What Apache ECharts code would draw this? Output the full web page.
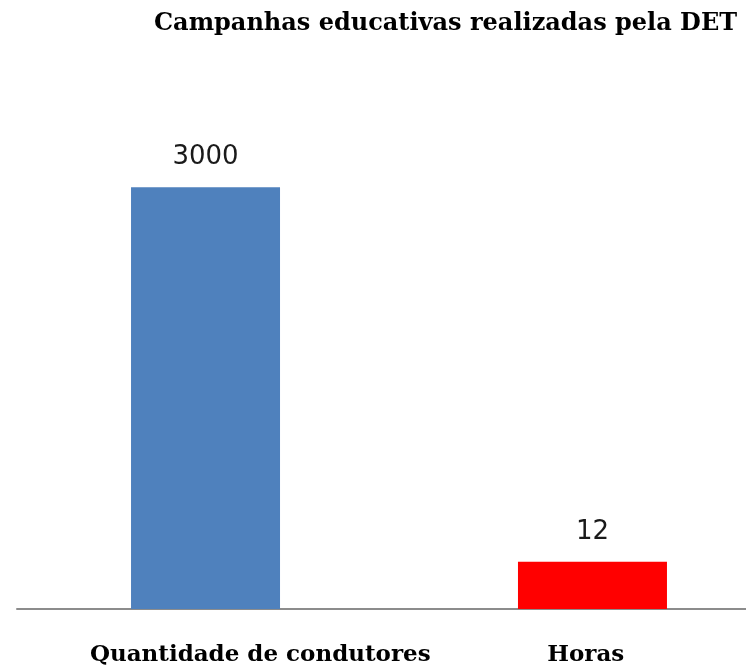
<!DOCTYPE html>
<html>
<head>
<meta charset="utf-8">
<script src="https://cdn.jsdelivr.net/npm/echarts@6/dist/echarts.min.js"></script>
<style>
  html, body { margin: 0; padding: 0; background: #fff; }
  #box { width: 746px; height: 670px; }
</style>
</head>
<body>
<div id="box"></div>
<script>
var categories = ['Quantidade de condutores', 'Horas'];
var condutores = [3000];
var horas = [12];

var myChart = echarts.init(document.getElementById('box'));

var serif = '"DejaVu Serif", "Liberation Serif", serif';
var labelStyle = {
    show: true,
    position: 'top',
    distance: 17,
    fontFamily: '"DejaVu Sans", Verdana, sans-serif',
    fontSize: 26,
    color: '#1a1a1a'
};

// grid 0 holds the two bars (each on its own hidden scale, like a secondary axis),
// grid 1 only draws the baseline and the category names
var option = {
    animation: false,
    backgroundColor: '#fff',
    title: {
        text: 'Campanhas educativas realizadas pela DET',
        left: 149,
        top: 7,
        textStyle: {
            fontFamily: serif,
            fontWeight: 'bold',
            fontSize: 24,
            color: '#000'
        }
    },
    grid: [
        { left: 52, right: 0, top: 117, bottom: 61 },
        { left: 17, right: 0, top: 117, bottom: 61 }
    ],
    xAxis: [{
        type: 'category',
        gridIndex: 0,
        data: ['DET'],
        show: false
    }, {
        type: 'category',
        gridIndex: 1,
        data: categories,
        axisLine: { lineStyle: { color: '#8c8c8c', width: 2 } },
        axisTick: { show: false },
        axisLabel: {
            margin: 35,
            formatter: function (val, idx) {
                return idx === 0 ? '{q|' + val + '}' : '{h|' + val + '}';
            },
            rich: {
                q: { fontFamily: serif, fontWeight: 'bold', fontSize: 23, color: '#000', padding: [0, 0, 0, 122] },
                h: { fontFamily: serif, fontWeight: 'bold', fontSize: 23, color: '#000', padding: [0, 0, 0, 44] }
            }
        }
    }],
    yAxis: [{
        type: 'value', gridIndex: 0, min: 0, max: 3500, show: false
    }, {
        type: 'value', gridIndex: 0, min: 0, max: 125, show: false
    }, {
        type: 'value', gridIndex: 1, min: 0, max: 1, show: false
    }],
    series: [{
        name: categories[0],
        type: 'bar',
        xAxisIndex: 0,
        yAxisIndex: 0,
        data: condutores,
        barWidth: 149,
        barGap: '159.7%',
        itemStyle: { color: '#4f81bd' },
        label: labelStyle
    }, {
        name: categories[1],
        type: 'bar',
        xAxisIndex: 0,
        yAxisIndex: 1,
        data: horas,
        barWidth: 149,
        barGap: '159.7%',
        itemStyle: { color: '#ff0000' },
        label: labelStyle
    }]
};

myChart.setOption(option);
</script>
</body>
</html>
